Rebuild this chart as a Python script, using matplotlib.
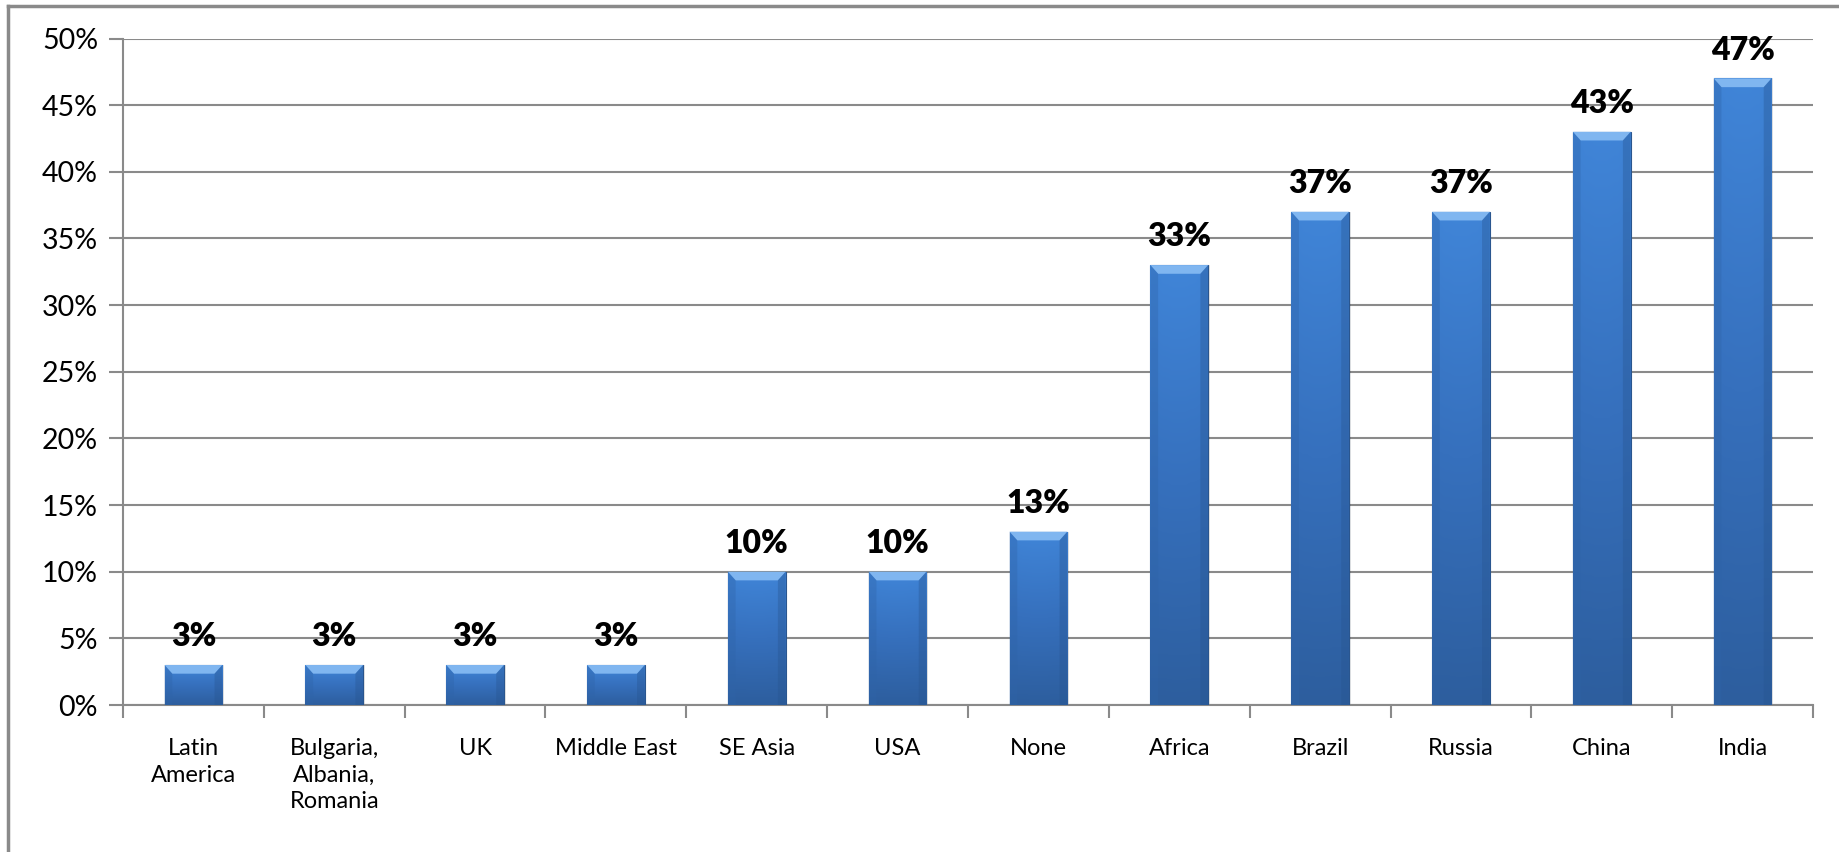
import numpy as np
import matplotlib.pyplot as plt
from matplotlib.colors import LinearSegmentedColormap
from matplotlib.lines import Line2D

# regions and share of respondents
regioes = ["Latin\nAmerica", "Bulgaria,\nAlbania,\nRomania", "UK", "Middle East",
           "SE Asia", "USA", "None", "Africa", "Brazil", "Russia", "China", "India"]
valores = [0.03, 0.03, 0.03, 0.03, 0.10, 0.10, 0.13, 0.33, 0.37, 0.37, 0.43, 0.47]
ticks_y = [0.0, 0.05, 0.10, 0.15, 0.20, 0.25, 0.30, 0.35, 0.40, 0.45, 0.50]

plt.rcParams['font.family'] = ['Lato', 'DejaVu Sans']

fig = plt.figure(figsize=(18.39, 8.52), dpi=100)
ax = fig.add_axes([123/1839, 1 - 705/852, (1813 - 123)/1839, (705 - 38.5)/852])

cinza = "#8a8a8a"
x = np.arange(len(valores))
largura = 0.41

# sombra leve atras das barras
ax.bar(x + 0.012, valores, width=largura, color="#000000", alpha=0.10, zorder=2)
barras = ax.bar(x, valores, width=largura, color="#3a78c8", edgecolor="#2a568f",
                linewidth=0.8, zorder=3)

# gradiente vertical dentro de cada barra
cmap = LinearSegmentedColormap.from_list("azul", ["#2d5e9e", "#3670bd", "#4085d8"])
grad = np.linspace(0, 1, 256).reshape(-1, 1)
lados = np.array([[0.78, 0.92, 1.0, 1.0, 0.92, 0.78]])
for b in barras:
    x0 = b.get_x()
    w = b.get_width()
    h = b.get_height()
    img = ax.imshow(grad * np.ones((1, 6)) * (0.85 + 0.15 * lados), cmap=cmap,
                    origin="lower", extent=[x0, x0 + w, 0, h], aspect="auto",
                    vmin=0, vmax=1, zorder=3.5)
    img.set_clip_path(b)
    # chanfro claro no topo
    dy = 0.0065
    dx = 0.055
    ax.fill([x0, x0 + w, x0 + w - dx, x0 + dx], [h, h, h - dy, h - dy],
            color="#80b6f0", zorder=4, lw=0)
    ax.fill([x0, x0 + dx, x0 + dx, x0], [h, h - dy, 0, 0],
            color="#2f64a8", alpha=0.35, zorder=4, lw=0)
    ax.fill([x0 + w, x0 + w - dx, x0 + w - dx, x0 + w], [h, h - dy, 0, 0],
            color="#27548e", alpha=0.35, zorder=4, lw=0)

for xi, v in zip(x, valores):
    ax.annotate(f"{v*100:.0f}%", (xi, v), xytext=(0, 10), textcoords="offset points",
                ha="center", va="bottom", fontsize=23, fontweight="heavy", zorder=5)

ax.set_xlim(-0.5, len(valores) - 0.5)
ax.set_ylim(0, 0.5)
ax.set_yticks(ticks_y)
ax.set_yticklabels([f"{t*100:.0f}%" for t in ticks_y], fontsize=20.5)
ax.yaxis.grid(True, color=cinza, linewidth=1.5, zorder=1)
ax.set_axisbelow(True)

ax.set_xticks(x)
ax.set_xticklabels(regioes, fontsize=17, linespacing=1.32)
ax.tick_params(axis="x", length=0, pad=24)
ax.set_xticks(np.arange(-0.5, len(valores)), minor=True)
ax.tick_params(axis="x", which="minor", length=9, width=1.5, color=cinza, direction="out")
ax.tick_params(axis="y", length=10, width=1.5, color=cinza, pad=8)

for lado in ["top", "right"]:
    ax.spines[lado].set_visible(False)
ax.spines["left"].set_color(cinza)
ax.spines["bottom"].set_color(cinza)
ax.spines["left"].set_linewidth(1.5)
ax.spines["bottom"].set_linewidth(1.5)

# moldura do grafico
fig.add_artist(Line2D([8/1839, 8/1839], [0, 1 - 6/852], color=cinza, lw=2.5))
fig.add_artist(Line2D([8/1839, 1], [1 - 6/852, 1 - 6/852], color=cinza, lw=2.5))

fig.savefig("out.png", dpi=100)
